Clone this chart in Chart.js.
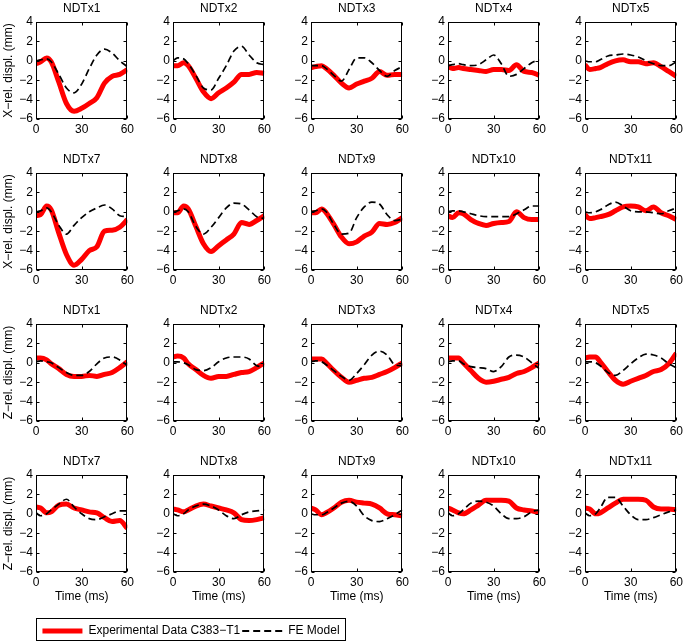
<!DOCTYPE html>
<html>
<head>
<meta charset="utf-8">
<script src="https://cdn.jsdelivr.net/npm/chart.js@4.4.1/dist/chart.umd.min.js"></script>
<style>
  body { margin: 0; background: #fff; overflow: hidden; }
  #wrap { position: relative; width: 685px; height: 642px; overflow: hidden; }
  .panel { position: absolute; }
  .panel canvas { display: block; }
  #legendFrame { position: absolute; left: 36px; top: 618px; width: 310px; height: 23px;
                 border: 1px solid #000; box-sizing: border-box; }
  #legendBox { position: absolute; left: 36px; top: 612px; width: 310px; height: 70px; }
</style>
</head>
<body>
<div id="wrap">
  <div id="legendFrame"></div>
  <div id="legendBox"><canvas id="legendCanvas"></canvas></div>
</div>
<script>
// temps (ms) commun à toutes les courbes
const time = [0, 3, 7, 10, 15, 20, 25, 30, 35, 40, 45, 50, 55, 60];
const topTitles = ['NDTx1', 'NDTx2', 'NDTx3', 'NDTx4', 'NDTx5'];
const bottomTitles = ['NDTx7', 'NDTx8', 'NDTx9', 'NDTx10', 'NDTx11'];
const rowLabels = ['X\u2212rel. displ. (mm)', 'X\u2212rel. displ. (mm)', 'Z\u2212rel. displ. (mm)', 'Z\u2212rel. displ. (mm)'];
const xTicks = [0, 30, 60];
const yTicks = [-6, -4, -2, 0, 2, 4];
const expLabel = 'Experimental Data C383\u2212T1';
const feLabel = 'FE Model';

// X, NDTx1..5
const expX1 = [
  [-0.3, -0.1, 0.3, -0.1, -2.2, -4.4, -5.2, -4.9, -4.4, -3.8, -2.3, -1.6, -1.4, -0.9],
  [-0.5, -0.5, -0.2, -0.5, -1.8, -3.2, -3.9, -3.3, -2.8, -2.2, -1.4, -1.4, -1.2, -1.3],
  [-0.7, -0.6, -0.5, -0.8, -1.5, -2.3, -2.8, -2.4, -2.1, -1.8, -1.1, -1.5, -1.4, -1.4],
  [-0.6, -0.8, -0.7, -0.8, -0.9, -1.0, -1.1, -0.9, -0.9, -1.0, -0.4, -1.1, -1.2, -1.5],
  [-0.4, -0.9, -0.8, -0.7, -0.3, 0.0, 0.1, -0.1, -0.1, -0.3, -0.2, -0.6, -1.1, -1.6]
];
const feX1 = [
  [0.0, 0.1, 0.2, -0.1, -1.4, -2.8, -3.3, -2.4, -0.8, 0.6, 1.2, 0.8, 0.0, -0.6],
  [0.0, 0.3, 0.2, -0.3, -1.5, -2.8, -3.0, -1.8, -0.5, 1.0, 1.5, 0.6, -0.2, -0.4],
  [-0.5, -0.5, -0.5, -0.8, -1.5, -2.1, -0.9, 0.3, 0.3, -0.2, -1.0, -1.6, -1.0, -0.6],
  [-0.5, -0.4, -0.3, -0.4, -0.5, -0.4, 0.1, 0.6, -0.3, -1.6, -1.4, -0.8, -0.2, 0.1],
  [0.0, -0.1, -0.1, 0.1, 0.5, 0.6, 0.7, 0.6, 0.4, 0.0, -0.3, -0.5, -0.5, -0.1]
];
// X, NDTx7..11
const expX2 = [
  [-0.4, -0.3, 0.6, 0.2, -2.2, -4.4, -5.5, -4.9, -4.0, -3.6, -2.0, -1.9, -1.6, -0.8],
  [-0.1, -0.1, 0.6, 0.3, -1.5, -3.3, -4.1, -3.5, -2.9, -2.3, -1.1, -1.3, -0.9, -0.4],
  [-0.1, -0.1, 0.3, -0.1, -1.3, -2.6, -3.3, -3.1, -2.5, -2.1, -1.2, -1.3, -1.1, -0.6],
  [-0.4, -0.6, -0.1, -0.2, -0.8, -1.2, -1.4, -1.2, -1.1, -1.0, 0.0, -0.6, -0.8, -0.8],
  [-0.3, -0.7, -0.6, -0.5, -0.3, 0.1, 0.5, 0.6, 0.5, 0.1, 0.5, -0.1, -0.4, -0.8]
];
const feX2 = [
  [0.0, 0.1, 0.4, 0.0, -1.4, -2.3, -1.4, -0.6, 0.0, 0.4, 0.7, 0.3, -0.4, -0.5],
  [0.0, 0.1, 0.3, 0.0, -1.5, -2.3, -1.6, -0.6, 0.4, 0.9, 0.8, 0.2, -0.5, -0.7],
  [0.0, 0.1, 0.3, 0.0, -1.3, -2.3, -2.2, -0.6, 0.5, 1.0, 0.8, -0.3, -0.9, -0.8],
  [0.0, 0.1, 0.1, 0.0, -0.2, -0.4, -0.5, -0.5, -0.5, -0.5, -0.2, 0.2, 0.6, 0.6],
  [0.0, -0.1, 0.0, 0.2, 0.7, 1.0, 0.6, 0.1, 0.0, 0.0, -0.1, -0.2, 0.1, 0.4]
];
// Z, NDTx1..5
const expZ1 = [
  [0.5, 0.5, 0.3, -0.1, -0.6, -1.2, -1.4, -1.4, -1.3, -1.4, -1.2, -1.0, -0.5, 0.1],
  [0.6, 0.7, 0.5, -0.1, -0.7, -1.3, -1.6, -1.4, -1.4, -1.2, -1.0, -0.9, -0.5, 0.0],
  [0.4, 0.4, 0.4, 0.0, -0.8, -1.5, -2.0, -1.8, -1.6, -1.5, -1.2, -0.9, -0.5, 0.0],
  [0.5, 0.5, 0.5, 0.0, -0.8, -1.6, -2.0, -1.9, -1.7, -1.5, -1.1, -0.9, -0.5, 0.0],
  [0.5, 0.6, 0.6, 0.1, -0.9, -1.8, -2.2, -1.9, -1.6, -1.3, -0.9, -0.7, -0.1, 1.0]
];
const feZ1 = [
  [0.1, 0.2, 0.1, 0.0, -0.5, -1.0, -1.3, -1.3, -0.9, -0.1, 0.5, 0.6, 0.3, -0.3],
  [0.1, 0.1, 0.0, -0.2, -0.7, -0.8, -0.5, 0.1, 0.5, 0.6, 0.6, 0.4, -0.3, -0.4],
  [0.1, 0.2, 0.1, -0.2, -0.8, -1.4, -1.8, -1.1, -0.2, 0.8, 1.2, 0.8, -0.2, -0.3],
  [0.1, 0.2, 0.2, -0.1, -0.4, -0.5, -0.6, -0.9, -0.4, 0.6, 0.8, 0.6, 0.0, -0.6],
  [0.1, 0.1, 0.0, -0.3, -1.0, -1.3, -0.8, -0.1, 0.5, 0.9, 0.8, 0.5, -0.1, -0.5]
];
// Z, NDTx7..11
const expZ2 = [
  [0.7, 0.6, 0.1, 0.2, 0.9, 1.0, 0.6, 0.4, 0.2, 0.1, -0.4, -0.8, -0.7, -1.5],
  [0.5, 0.4, 0.2, 0.4, 0.8, 1.0, 0.8, 0.6, 0.4, 0.1, -0.6, -0.7, -0.6, -0.4],
  [0.6, 0.4, -0.1, 0.1, 0.6, 1.2, 1.4, 1.2, 1.1, 1.0, 0.6, 0.0, -0.1, -0.2],
  [0.6, 0.4, 0.1, 0.0, 0.4, 0.9, 1.4, 1.4, 1.4, 1.3, 0.6, 0.4, 0.3, 0.1],
  [0.6, 0.5, 0.0, 0.1, 0.6, 1.1, 1.5, 1.5, 1.5, 1.4, 0.7, 0.5, 0.5, 0.4]
];
const feZ2 = [
  [0.1, -0.2, 0.0, 0.4, 1.0, 1.5, 0.7, 0.0, -0.5, -0.6, -0.3, 0.0, 0.3, 0.3],
  [0.0, -0.2, 0.0, 0.4, 0.8, 1.0, 0.8, 0.4, -0.2, -0.5, -0.1, 0.2, 0.3, 0.4],
  [0.0, -0.1, -0.1, 0.1, 0.6, 1.1, 1.3, 0.8, -0.2, -0.7, -0.8, -0.5, -0.1, 0.4],
  [0.1, -0.2, 0.0, 0.4, 1.1, 1.3, 1.2, 0.8, 0.0, -0.5, -0.5, -0.3, 0.2, 0.4],
  [0.1, -0.2, 0.0, 0.6, 1.7, 1.7, 0.8, -0.1, -0.6, -0.6, -0.4, -0.1, 0.2, 0.4]
];

const rows = [
  { titles: topTitles, exp: expX1, fe: feX1 },
  { titles: bottomTitles, exp: expX2, fe: feX2 },
  { titles: topTitles, exp: expZ1, fe: feZ1 },
  { titles: bottomTitles, exp: expZ2, fe: feZ2 }
];

// mise en page (pixels)
const colLeft = [36, 173, 311, 448, 585];
const rowTop = [22, 173, 324, 475];
const plotW = 92, plotH = 97, titleH = 21, padR = 9;
const RED = '#ff0000';

Chart.defaults.font.family = '"Liberation Sans", Arial, Helvetica, sans-serif';
Chart.defaults.font.size = 12;
Chart.defaults.color = '#000';

// cadre + graduations vers l'intérieur, style MATLAB
const framePlugin = {
  id: 'frame',
  afterDatasetsDraw(chart) {
    const { ctx, chartArea: a, scales: { x, y } } = chart;
    const L = Math.round(a.left) + 0.5, R = Math.round(a.right) - 0.5;
    const T = Math.round(a.top) + 0.5, B = Math.round(a.bottom) - 0.5;
    ctx.save();
    ctx.strokeStyle = '#000';
    ctx.lineWidth = 1;
    ctx.setLineDash([]);
    ctx.strokeRect(L, T, R - L, B - T);
    ctx.beginPath();
    xTicks.forEach(v => {
      const px = Math.round(x.getPixelForValue(v)) + 0.5;
      ctx.moveTo(px, B); ctx.lineTo(px, B - 3);
      ctx.moveTo(px, T); ctx.lineTo(px, T + 3);
    });
    yTicks.forEach(v => {
      const py = Math.round(y.getPixelForValue(v)) + 0.5;
      ctx.moveTo(L, py); ctx.lineTo(L + 3, py);
      ctx.moveTo(R, py); ctx.lineTo(R - 3, py);
    });
    ctx.stroke();
    ctx.restore();
  }
};

function toPoints(arr) {
  return time.map((t, i) => ({ x: t, y: arr[i] }));
}

const wrap = document.getElementById('wrap');

function makePanel(r, c) {
  const row = rows[r];
  const yw = c === 0 ? 36 : 30;
  const xh = r === 3 ? 40 : 22;
  const div = document.createElement('div');
  div.className = 'panel';
  div.style.left = (colLeft[c] - yw) + 'px';
  div.style.top = (rowTop[r] - titleH) + 'px';
  div.style.width = (yw + plotW + padR) + 'px';
  div.style.height = (titleH + plotH + xh) + 'px';
  const cv = document.createElement('canvas');
  div.appendChild(cv);
  wrap.appendChild(div);

  new Chart(cv, {
    type: 'line',
    data: {
      datasets: [
        {
          label: feLabel,
          data: toPoints(row.fe[c]),
          borderColor: '#000',
          borderWidth: 1.7,
          borderDash: [7, 4],
          pointRadius: 0,
          cubicInterpolationMode: 'monotone',
          fill: false
        },
        {
          label: expLabel,
          data: toPoints(row.exp[c]),
          borderColor: RED,
          borderWidth: 5,
          pointRadius: 0,
          cubicInterpolationMode: 'monotone',
          fill: false
        }
      ]
    },
    options: {
      animation: false,
      responsive: true,
      maintainAspectRatio: false,
      layout: { padding: { left: 0, right: padR, top: 0, bottom: 0 } },
      scales: {
        x: {
          type: 'linear',
          min: 0, max: 60,
          afterBuildTicks: s => { s.ticks = xTicks.map(v => ({ value: v })); },
          afterFit: s => { s.height = xh; },
          grid: { display: false, drawTicks: false },
          border: { display: false },
          ticks: { padding: 3, maxRotation: 0, autoSkip: false },
          title: { display: r === 3, text: 'Time (ms)', padding: { top: 0, bottom: 8 } }
        },
        // axe du haut : sert seulement à centrer le titre du panneau sur la zone de tracé
        xTop: {
          type: 'linear',
          position: 'top',
          min: 0, max: 60,
          afterFit: s => { s.height = titleH; },
          grid: { display: false, drawTicks: false },
          border: { display: false },
          ticks: { display: false },
          title: { display: true, text: row.titles[c], padding: { top: 0, bottom: 0 } }
        },
        y: {
          type: 'linear',
          min: -6, max: 4,
          afterBuildTicks: s => { s.ticks = yTicks.map(v => ({ value: v })); },
          afterFit: s => { s.width = yw; },
          grid: { display: false, drawTicks: false },
          border: { display: false },
          ticks: { padding: 3, callback: v => String(v).replace('-', '\u2212') },
          title: { display: c === 0, text: rowLabels[r], padding: { top: 1, bottom: 0 } }
        }
      },
      plugins: {
        legend: { display: false },
        tooltip: { enabled: false },
        title: { display: false }
      }
    },
    plugins: [framePlugin]
  });
}

for (let r = 0; r < 4; r++) {
  for (let c = 0; c < 5; c++) makePanel(r, c);
}

// légende commune en bas
new Chart(document.getElementById('legendCanvas'), {
  type: 'line',
  data: {
    datasets: [
      { label: expLabel, data: [], borderColor: RED, backgroundColor: RED, borderWidth: 5 },
      { label: feLabel, data: [], borderColor: '#000', backgroundColor: '#000', borderWidth: 2, borderDash: [7, 4] }
    ]
  },
  options: {
    animation: false,
    responsive: true,
    maintainAspectRatio: false,
    layout: { padding: { top: 11, bottom: 0, left: 0, right: 0 } },
    scales: { x: { display: false }, y: { display: false } },
    plugins: {
      tooltip: { enabled: false },
      legend: {
        display: true,
        onClick: null,
        labels: {
          usePointStyle: true,
          pointStyle: 'line',
          pointStyleWidth: 40,
          boxHeight: 12,
          padding: 2,
          font: { size: 12 },
          // reprendre le style du trait (pointillés) du jeu de données
          generateLabels: chart => Chart.defaults.plugins.legend.labels.generateLabels(chart).map(item => {
            const ds = chart.data.datasets[item.datasetIndex];
            item.lineDash = ds.borderDash || [];
            item.lineWidth = ds.borderWidth;
            item.strokeStyle = ds.borderColor;
            return item;
          })
        }
      }
    }
  }
});
</script>
</body>
</html>
